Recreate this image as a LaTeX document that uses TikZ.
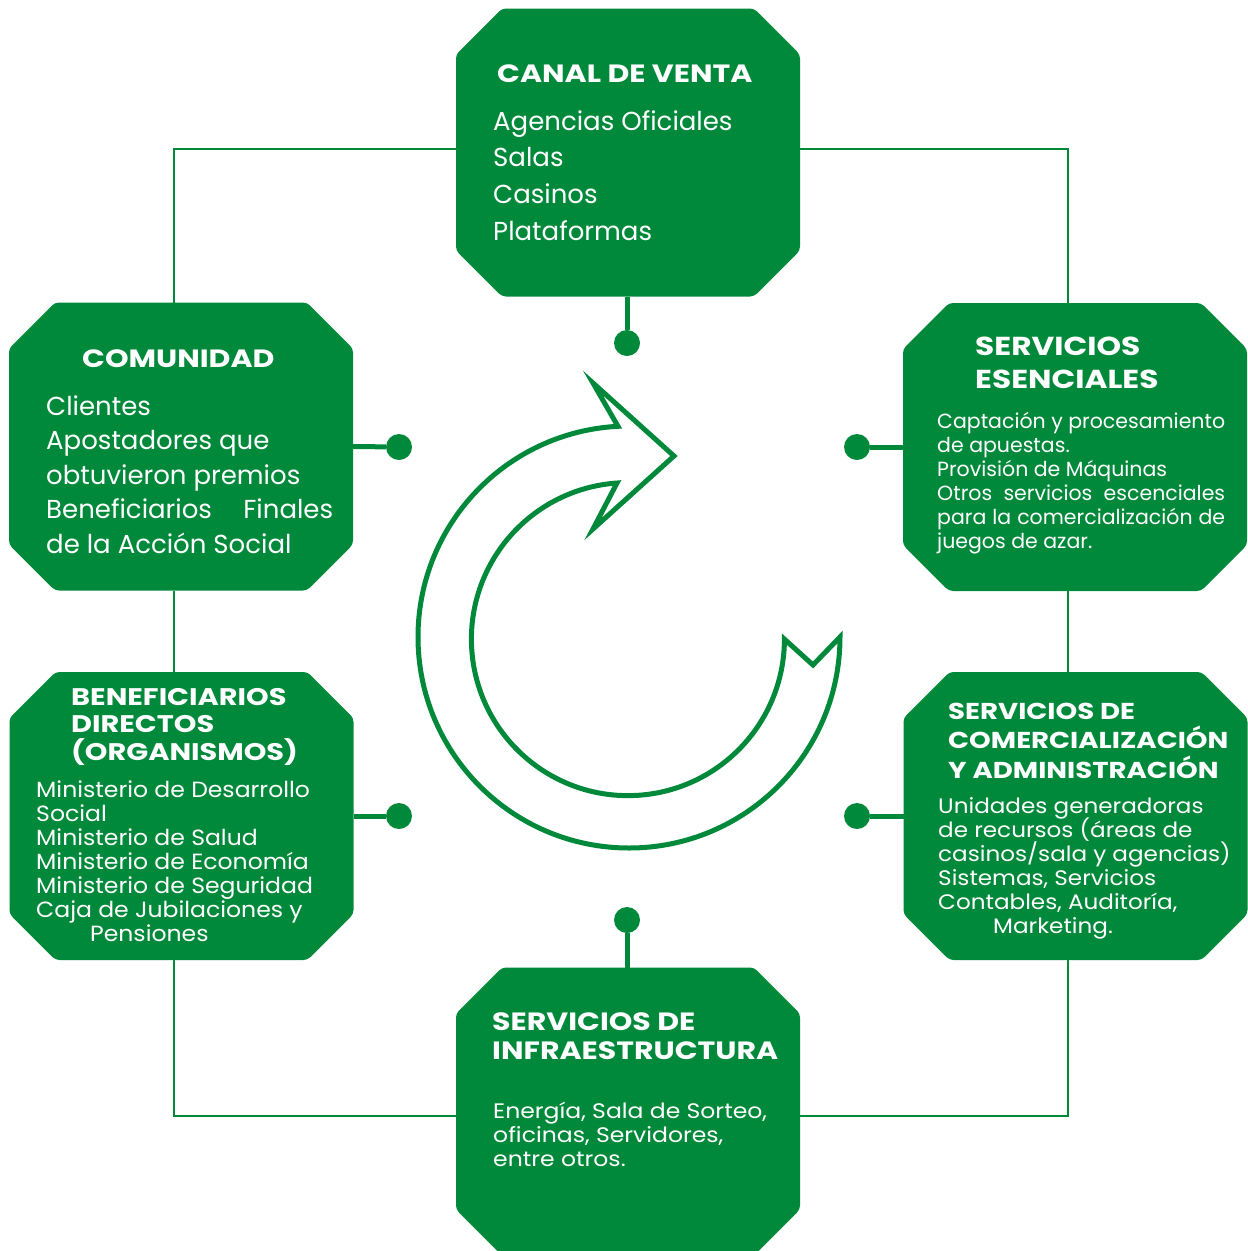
\documentclass[tikz,border=0pt]{standalone}
\usepackage{fontspec}
\setmainfont{Poppins}
\newfontfamily\headf{Poppins}[FakeStretch=1.2]
\newfontfamily\bodya{Poppins}[FakeStretch=1.07]
\newfontfamily\bodyb{Poppins}[FakeStretch=1.1]
\newfontfamily\bodyc{Poppins}[FakeStretch=1.12]
\definecolor{brand}{RGB}{0,137,58}
\newcommand\fs[1]{\fontsize{#1}{#1}\selectfont}
\newcommand\octagon[1]{%
  \fill[brand, rounded corners=4pt]
    ([xshift=46pt]#1.north west) -- ([xshift=-46pt]#1.north east) --
    ([yshift=-46pt]#1.north east) -- ([yshift=46pt]#1.south east) --
    ([xshift=-46pt]#1.south east) -- ([xshift=46pt]#1.south west) --
    ([yshift=46pt]#1.south west) -- ([yshift=-46pt]#1.north west) -- cycle;}
\newcommand\txtlines[6]{%
  \foreach \t [count=\i from 0] in {#6}
    \node[txt, font=#5, name=#1\i] at (#2, #3+\i*#4) {\t};}
\begin{document}
\begin{tikzpicture}[x=1pt, y=-1pt,
  box/.style={inner sep=0pt, outer sep=0pt, minimum width=344pt, minimum height=288pt},
  dot/.style={circle, fill=brand, inner sep=0pt, minimum size=26pt},
  frame/.style={draw=brand, line width=2.2pt},
  stub/.style={draw=brand, line width=5pt},
  txt/.style={anchor=base west, inner sep=0pt, text=white}]
\useasboundingbox (0,0) rectangle (1248,1251);
% octagon placeholders
\node[box] (canal)      at (628,152.5) {};
\node[box] (comunidad)  at (181,446.5) {};
\node[box] (esenciales) at (1075,447)  {};
\node[box] (benef)      at (181.5,816) {};
\node[box] (comerc)     at (1075.5,816) {};
\node[box] (infra)      at (628,1111.5) {};
% frame corners
\coordinate (tl) at (174,149);
\coordinate (tr) at (1068,149);
\coordinate (bl) at (174,1116);
\coordinate (br) at (1068,1116);
% dots
\node[dot] (d1) at (627,343) {};
\node[dot] (d2) at (399,447) {};
\node[dot] (d3) at (857,447) {};
\node[dot] (d4) at (399,816) {};
\node[dot] (d5) at (857,816) {};
\node[dot] (d6) at (627,920) {};
% frame
\draw[frame] (tl -| canal.west) -- (tl) -- (tl |- comunidad.north);
\draw[frame] (tl |- comunidad.south) -- (tl |- benef.north);
\draw[frame] (tl |- benef.south) -- (bl) -- (bl -| infra.west);
\draw[frame] (tr -| canal.east) -- (tr) -- (tr |- esenciales.north);
\draw[frame] (tr |- esenciales.south) -- (tr |- comerc.north);
\draw[frame] (tr |- comerc.south) -- (br) -- (br -| infra.east);
% stubs
\draw[stub] (d1 |- canal.south) -- (d1);
\draw[stub] (comunidad.east) -- (d2);
\draw[stub] (esenciales.west) -- (d3);
\draw[stub] (benef.east) -- (d4);
\draw[stub] (comerc.west) -- (d5);
\draw[stub] (d6 |- infra.north) -- (d6);
% octagons
\octagon{canal}\octagon{comunidad}\octagon{esenciales}
\octagon{benef}\octagon{comerc}\octagon{infra}
% circular arrow
\draw[brand, line width=5pt, fill=white, line join=miter]
  (840,637) arc[start angle=0, end angle=267, radius=211]
  -- (593,383) -- (674,456) -- (593,529) -- (617,483)
  arc[start angle=266, end angle=0, radius=156.5]
  -- (813,665) -- cycle;
% texts
\node[txt, font=\headf\fs{25}\bfseries] (canalh) at (497,82) {CANAL DE VENTA};
\txtlines{canalb}{493}{130}{36.7}{\fs{26}}{Agencias Oficiales, Salas, Casinos, Plataformas}
\node[txt, font=\headf\fs{25}\bfseries] (comunidadh) at (82,367) {COMUNIDAD};
\txtlines{comb}{46}{415}{34.6}{\fs{26}}{Clientes, Apostadores que, obtuvieron premios, \hbox to 287pt{Beneficiarios\hfill Finales}, de la Acción Social}
\txtlines{esh}{975}{355}{33.3}{\headf\fs{26}\bfseries}{SERVICIOS, ESENCIALES}
\txtlines{esb}{937}{428}{24}{\fs{20.5}}{Captación y procesamiento, de apuestas., Provisión de Máquinas, \hbox to 288pt{Otros\hfill servicios\hfill escenciales}, \hbox to 288pt{para\hfill la\hfill comercialización\hfill de}, juegos de azar.}
\txtlines{beh}{71}{705}{27.5}{\headf\fs{24}\bfseries}{BENEFICIARIOS, DIRECTOS, (ORGANISMOS)}
\txtlines{beb}{36}{797}{24}{\bodya\fs{22}}{Ministerio de Desarrollo, Social, Ministerio de Salud, Ministerio de Economía, Ministerio de Seguridad, Caja de Jubilaciones y, \hspace*{54pt}Pensiones}
\txtlines{coh}{948}{719}{29.5}{\headf\fs{23}\bfseries}{SERVICIOS DE, COMERCIALIZACIÓN, Y ADMINISTRACIÓN}
\txtlines{cob}{938}{813}{24}{\bodyb\fs{21}}{Unidades generadoras, de recursos (áreas de, casinos/sala y agencias), {Sistemas, Servicios}, {Contables, Auditoría,}, \hspace*{55pt}Marketing.}
\txtlines{inh}{492}{1030}{29.3}{\headf\fs{25}\bfseries}{SERVICIOS DE, INFRAESTRUCTURA}
\txtlines{inb}{493}{1118}{24}{\bodyc\fs{21}}{{Energía, Sala de Sorteo,}, {oficinas, Servidores,}, entre otros.}
\end{tikzpicture}
\end{document}
